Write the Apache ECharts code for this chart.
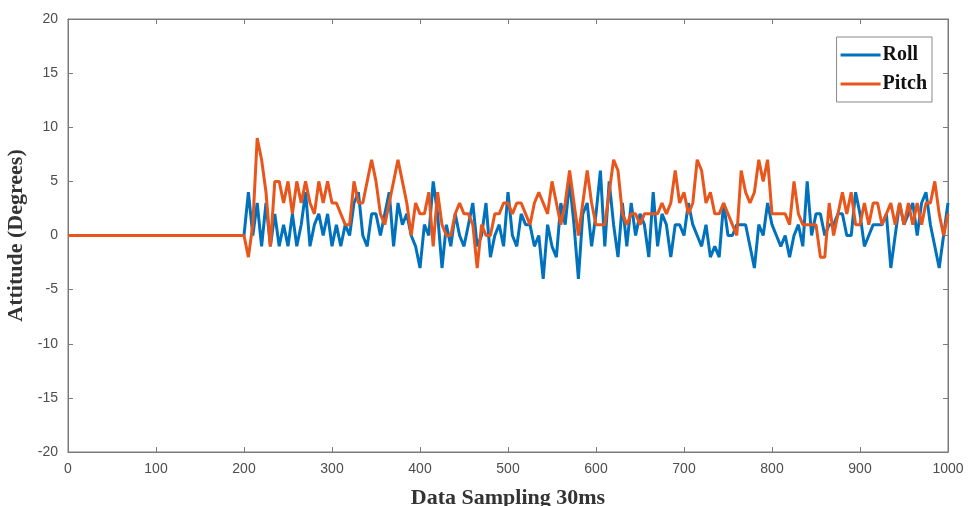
<!DOCTYPE html>
<html>
<head>
<meta charset="utf-8">
<script src="https://cdn.jsdelivr.net/npm/echarts@6/dist/echarts.min.js"></script>
<style>html,body{margin:0;padding:0;background:#fff}#c{width:968px;height:506px}</style>
</head>
<body>
<div id="c"></div>
<script>
// sample indices: 0, then 200..1000 every 5
const samples = [0];
for (let s = 200; s <= 1000; s += 5) samples.push(s);

const roll = [0,
  0,4,0,3,-1,3,-1,2,-1,1, -1,2,-1,1,4,-1,1,2,0,2, -1,1,-1,1,0,3,4,0,-1,2, 2,0,
  2,4,-1,3,1,2,0,-1,-3,1, 0,5,2,-3,1,-1,2,0,-1,1, 3,-1,0,3,-2,0,1,-1,4,0, -1,2,
  1,1,-1,0,-4,1,-1,-2,3,1, 5,1,-4,2,3,-1,2,6,-1,5, 1,-2,3,-1,3,0,2,1,-2,4, -1,2,
  1,-2,1,1,0,3,1,0,-1,1, -2,-1,-2,3,0,0,1,1,1,-1, -3,1,0,3,1,0,-1,0,-2,0, 1,-1,5,
  0,2,2,0,1,1,2,2,0,0, 4,2,-1,0,1,1,1,2,-3,0, 3,1,2,3,0,3,4,1,-1,-3, 0,3
];
const pitch = [0,
  0,-2,1,9,7,4,-1,5,5,3, 5,2,5,3,5,3,2,5,3,5, 3,3,2,1,1,5,3,3,5,7, 5,2,
  1,3,5,7,5,3,0,3,2,2, 4,-1,4,1,0,0,2,3,2,2, 1,-3,1,0,0,2,2,3,3,2, 3,3,
  2,1,3,4,3,2,5,3,1,3, 6,3,0,3,6,3,1,1,1,4, 7,6,2,1,2,2,1,2,2,2, 2,3,
  2,3,6,3,4,2,3,7,6,3, 4,2,2,3,2,1,0,6,4,3, 4,7,5,7,2,2,2,2,1,5, 2,1,1,
  1,1,-2,-2,3,0,2,4,2,4, 1,1,3,1,3,3,1,2,3,1, 3,1,3,1,3,1,3,3,5,2, 0,2
];
const seriesNames = ['Roll', 'Pitch'];
const xTicks = [0,100,200,300,400,500,600,700,800,900,1000];
const yTicks = [-20,-15,-10,-5,0,5,10,15,20];

const pair = (vals) => samples.map((s, i) => [s, vals[i]]);
const axisCol = '#7a7a7a';
const labelCol = '#4d4d4d';
const serif = '"Liberation Serif", "DejaVu Serif", serif';
const sans = '"Liberation Sans", Arial, sans-serif';
const tick = {show: true, inside: true, length: 5, lineStyle: {color: axisCol}};
const line = {show: true, onZero: false, lineStyle: {color: axisCol}};

const chart = echarts.init(document.getElementById('c'), null, {renderer: 'canvas'});
chart.setOption({
  animation: false,
  color: ['#0072BD', '#E8561C'],
  grid: {left: 68, right: 20, top: 19, bottom: 54, show: true, borderColor: axisCol, borderWidth: 1,
         containLabel: false, outerBoundsMode: 'none'},
  legend: {
    data: seriesNames,
    orient: 'vertical',
    right: 36, top: 37,
    icon: 'rect', itemWidth: 40, itemHeight: 3, itemGap: 9,
    borderColor: '#888', borderWidth: 1, padding: [8, 5, 8, 4],
    backgroundColor: '#fff',
    textStyle: {fontFamily: serif, fontWeight: 'bold', fontSize: 20, color: '#111', padding: [0,0,0,-3]}
  },
  xAxis: [{
    type: 'value', min: xTicks[0], max: xTicks[xTicks.length-1], interval: 100,
    name: 'Data Sampling 30ms', nameLocation: 'middle', nameGap: 35,
    nameTextStyle: {fontFamily: serif, fontWeight: 'bold', fontSize: 22, color: '#333'},
    axisLine: line, axisTick: tick,
    axisLabel: {fontFamily: sans, fontSize: 14, color: labelCol, margin: 10, formatter: v => String(v)},
    splitLine: {show: false}
  }, {
    type: 'value', position: 'top', min: xTicks[0], max: xTicks[xTicks.length-1], interval: 100,
    axisLine: line, axisTick: tick,
    axisLabel: {show: false}, splitLine: {show: false}
  }],
  yAxis: [{
    type: 'value', min: yTicks[0], max: yTicks[yTicks.length-1], interval: 5,
    name: 'Attitude (Degrees)', nameLocation: 'middle', nameGap: 35, nameRotate: 90,
    nameTextStyle: {fontFamily: serif, fontWeight: 'bold', fontSize: 22, color: '#333'},
    axisLine: line, axisTick: tick,
    axisLabel: {fontFamily: sans, fontSize: 14, color: labelCol, margin: 10},
    splitLine: {show: false}
  }, {
    type: 'value', position: 'right', min: yTicks[0], max: yTicks[yTicks.length-1], interval: 5,
    axisLine: line, axisTick: tick,
    axisLabel: {show: false}, splitLine: {show: false}
  }],
  series: [
    {name: seriesNames[0], type: 'line', data: pair(roll), showSymbol: false, lineStyle: {width: 3}, z: 2},
    {name: seriesNames[1], type: 'line', data: pair(pitch), showSymbol: false, lineStyle: {width: 3}, z: 3}
  ]
});
</script>
</body>
</html>
